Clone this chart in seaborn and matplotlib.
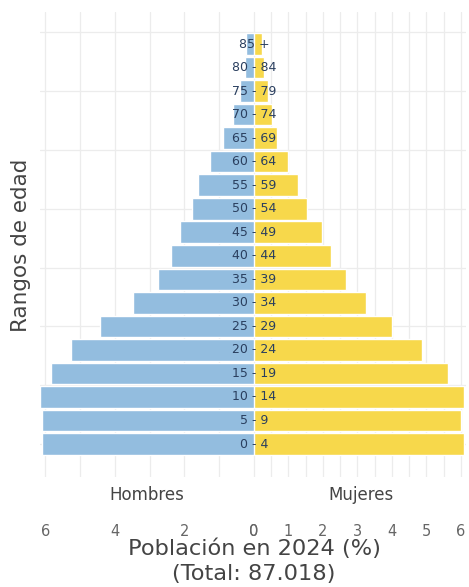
import matplotlib
matplotlib.use("Agg")
import matplotlib.pyplot as plt
import seaborn as sns
import pandas as pd

ages = ["0 - 4", "5 - 9", "10 - 14", "15 - 19", "20 - 24", "25 - 29", "30 - 34",
        "35 - 39", "40 - 44", "45 - 49", "50 - 54", "55 - 59", "60 - 64",
        "65 - 69", "70 - 74", "75 - 79", "80 - 84", "85 +"]
hombres = [6.08, 6.08, 6.14, 5.82, 5.27, 4.44, 3.48, 2.76, 2.38, 2.12, 1.78,
           1.60, 1.26, 0.88, 0.59, 0.39, 0.27, 0.22]
mujeres = [6.08, 6.00, 6.10, 5.64, 4.86, 4.00, 3.24, 2.67, 2.23, 1.97, 1.54,
           1.28, 0.99, 0.68, 0.53, 0.42, 0.30, 0.24]
left_ticks = [6, 4, 2, 0]
right_ticks = [0, 1, 2, 3, 4, 5, 6]

BLUE = "#93bddf"
YELLOW = "#f7d84b"
GRID = "#ececec"

sns.set_theme(style="white")
plt.rcParams["font.family"] = ["DejaVu Sans"]

W, H = 469, 587
fig = plt.figure(figsize=(W / 100, H / 100), dpi=100)

def rect(x0, x1, y0, y1):
    return [x0 / W, 1 - y1 / H, (x1 - x0) / W, (y1 - y0) / H]

axL = fig.add_axes(rect(40, 254, 12, 477))
axR = fig.add_axes(rect(254, 466, 12, 477))

order = ages[::-1]
df = pd.DataFrame({"edad": ages, "Hombres": hombres, "Mujeres": mujeres})

sns.barplot(data=df, x="Hombres", y="edad", order=order, orient="h",
            color=BLUE, saturation=1, width=0.92, ax=axL, zorder=2)
sns.barplot(data=df, x="Mujeres", y="edad", order=order, orient="h",
            color=YELLOW, saturation=1, width=0.92, ax=axR, zorder=2)

n = len(ages)
for ax in (axL, axR):
    ax.set_ylim(n - 1 + 1.40, -1.36)
    ax.set_yticks([])
    ax.set_ylabel("")
    ax.set_xlabel("")
    for s in ax.spines.values():
        s.set_visible(False)
    for j in [0, 2.5, 5, 7.5, 10, 12.5, 15, 17.5]:
        ax.axhline(n - 1 - j, color=GRID, lw=0.9, zorder=0)
    ax.tick_params(axis="x", length=0, pad=34, labelsize=10.5, labelcolor="#666666")
    ax.patch.set_alpha(0)

axL.set_xlim(6.15, 0)
axR.set_xlim(0, 6.15)
axL.set_xticks(left_ticks)
axL.set_xticklabels([str(t) for t in left_ticks])
axR.set_xticks(right_ticks)
axR.set_xticklabels([str(t) for t in right_ticks])

for v in range(0, 7):
    axL.axvline(v, color=GRID, lw=0.9, zorder=0)
for k in range(0, 13):
    axR.axvline(k * 0.5, color=GRID, lw=0.9, zorder=0)

# age labels centred on zero
for i, lab in enumerate(order):
    axR.text(0, i, lab, ha="center", va="center", fontsize=9,
             color="#2a3f5f", clip_on=False, zorder=5)

fig.text(147 / W, 1 - 495 / H, "Hombres", ha="center", va="center",
         fontsize=12, color="#444444")
fig.text(361 / W, 1 - 495 / H, "Mujeres", ha="center", va="center",
         fontsize=12, color="#444444")
fig.text(254 / W, 1 - 549 / H, "Población en 2024 (%)", ha="center",
         va="center", fontsize=16.2, color="#444444")
fig.text(254 / W, 1 - 574 / H, "(Total: 87.018)", ha="center",
         va="center", fontsize=16.2, color="#444444")
fig.text(21 / W, 1 - 245 / H, "Rangos de edad", ha="center", va="center",
         rotation=90, fontsize=15.5, color="#444444")

fig.savefig("out.png", dpi=100)
